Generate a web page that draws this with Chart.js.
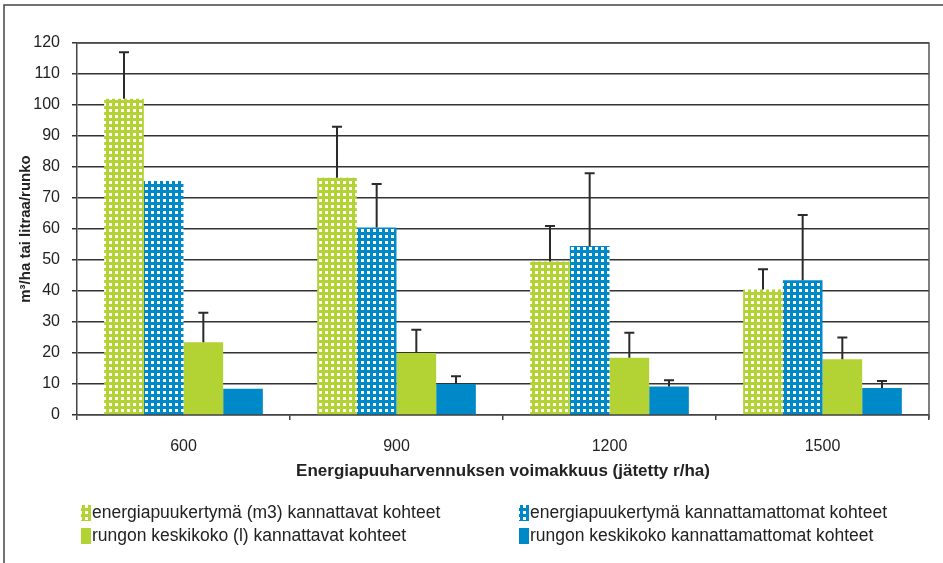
<!DOCTYPE html>
<html>
<head>
<meta charset="utf-8">
<script src="https://cdn.jsdelivr.net/npm/chart.js@4/dist/chart.umd.min.js"></script>
<style>
html,body{margin:0;padding:0;background:#fff}
#wrap{width:943px;height:563px;position:relative}
</style>
</head>
<body>
<div id="wrap"><canvas id="chart" width="943" height="563"></canvas></div>
<script>
let categories = ["600","900","1200","1500"]
let seriesNames = [
"energiapuukertymä (m3) kannattavat kohteet",
"energiapuukertymä kannattamattomat kohteet",
"rungon keskikoko (l) kannattavat kohteet",
"rungon keskikoko kannattamattomat kohteet"
]
let energiaKannattavat = [102, 76.5, 49.5, 40.5]
let energiaKannattavatErr = [117, 93, 61, 47]
let energiaKannattamattomat = [75.5, 60.5, 54.5, 43.5]
let energiaKannattamattomatErr = [null, 74.5, 78, 64.5]
let runkoKannattavat = [23.5, 20, 18.5, 18]
let runkoKannattavatErr = [33, 27.5, 26.5, 25]
let runkoKannattamattomat = [8.5, 10, 9.2, 8.7]
let runkoKannattamattomatErr = [null, 12.5, 11.2, 11]
let yTicks = [0,10,20,30,40,50,60,70,80,90,100,110,120]

const GREEN = "#b3d234"
const BLUE = "#0089c8"
const FONT = "'Liberation Sans', Arial, sans-serif"

function dotted(color){
let c=document.createElement("canvas")
c.width=6;c.height=6
let g=c.getContext("2d")
g.fillStyle=color
g.fillRect(0,0,6,6)
g.fillStyle="#fff"
g.fillRect(1,1,3,3)
return g.createPattern(c,"repeat")
}

let ctx=document.getElementById("chart").getContext("2d")

const errorBars={
id:"errorBars",
afterDatasetsDraw(chart){
let c=chart.ctx
let y=chart.scales.y
chart.data.datasets.forEach((ds,di)=>{
let meta=chart.getDatasetMeta(di)
ds.err.forEach((e,i)=>{
if(e==null) return
let bar=meta.data[i]
let top=y.getPixelForValue(e)
c.save()
c.strokeStyle="#2b2b2b"
c.lineWidth=2
c.beginPath()
c.moveTo(bar.x,bar.y)
c.lineTo(bar.x,top)
c.moveTo(bar.x-5,top)
c.lineTo(bar.x+5,top)
c.stroke()
c.restore()
})
})
}
}

const frame={
id:"frame",
afterDraw(chart){
let c=chart.ctx
let a=chart.chartArea
c.save()
c.strokeStyle="#555"
c.lineWidth=1.5
c.beginPath()
c.moveTo(a.left,a.top)
c.lineTo(a.right,a.top)
c.lineTo(a.right,a.bottom+4)
c.stroke()
// outer border
c.strokeStyle="#444"
c.lineWidth=1.5
c.beginPath()
c.moveTo(4,563)
c.lineTo(4,5)
c.lineTo(943,5)
c.stroke()
// legend
let pos=[[81,513],[519,513],[81,536],[519,536]]
c.font="17.5px "+FONT
c.textBaseline="middle"
chart.data.datasets.forEach((ds,i)=>{
let p=pos[i]
c.fillStyle=ds.backgroundColor
c.fillRect(p[0],p[1]-8,10,16)
c.fillStyle="#222"
c.fillText(ds.label,p[0]+11,p[1])
})
c.restore()
}
}

new Chart(ctx,{
type:"bar",
data:{
labels:categories,
datasets:[
{label:seriesNames[0],data:energiaKannattavat,err:energiaKannattavatErr,backgroundColor:dotted(GREEN)},
{label:seriesNames[1],data:energiaKannattamattomat,err:energiaKannattamattomatErr,backgroundColor:dotted(BLUE)},
{label:seriesNames[2],data:runkoKannattavat,err:runkoKannattavatErr,backgroundColor:GREEN},
{label:seriesNames[3],data:runkoKannattamattomat,err:runkoKannattamattomatErr,backgroundColor:BLUE}
]
},
options:{
responsive:false,
animation:false,
layout:{padding:{left:13,top:43,right:14,bottom:77}},
categoryPercentage:0.745,
barPercentage:1.0,
plugins:{legend:{display:false},tooltip:{enabled:false}},
scales:{
x:{
grid:{drawOnChartArea:false,drawTicks:true,tickLength:5,offset:true,color:"#444",lineWidth:1.5},
border:{color:"#444",width:1.5},
ticks:{font:{family:FONT,size:16},color:"#222",padding:17},
title:{display:true,text:"Energiapuuharvennuksen voimakkuus (jätetty r/ha)",font:{family:FONT,size:17,weight:"bold"},color:"#222",padding:{top:7}},
afterFit(s){s.height=71}
},
y:{
min:0,max:120,
afterBuildTicks(s){s.ticks=yTicks.map(v=>({value:v}))},
grid:{color:"#333",lineWidth:1.5,tickLength:5},
border:{color:"#444",width:1.5},
ticks:{font:{family:FONT,size:16},color:"#222",padding:12},
title:{display:true,text:"m³/ha tai litraa/runko",font:{family:FONT,size:15,weight:"bold"},color:"#222",padding:{bottom:0}},
afterFit(s){s.width=64}
}
}
},
plugins:[errorBars,frame]
})
</script>
</body>
</html>
